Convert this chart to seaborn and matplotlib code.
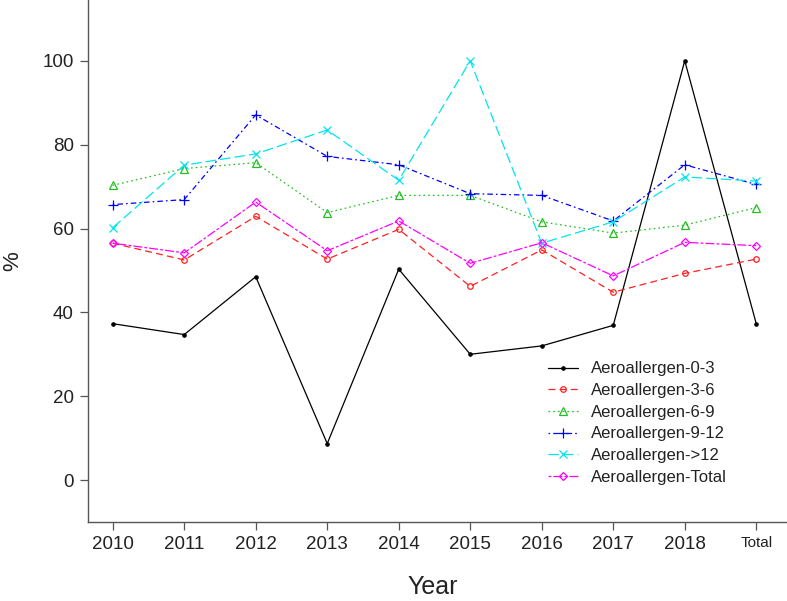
import matplotlib
matplotlib.use("Agg")
import matplotlib.pyplot as plt
import seaborn as sns
import pandas as pd

categories = ["2010", "2011", "2012", "2013", "2014", "2015", "2016", "2017", "2018", "Total"]
series_names = ["Aeroallergen-0-3", "Aeroallergen-3-6", "Aeroallergen-6-9",
                "Aeroallergen-9-12", "Aeroallergen->12", "Aeroallergen-Total"]
age_0_3 = [37.3, 34.7, 48.5, 8.7, 50.3, 30.0, 32.0, 36.9, 100.0, 37.3]
age_3_6 = [56.5, 52.5, 62.9, 52.7, 59.8, 46.2, 54.9, 44.8, 49.3, 52.7]
age_6_9 = [70.3, 74.3, 75.7, 63.8, 67.9, 67.9, 61.6, 58.9, 60.8, 65.0]
age_9_12 = [65.7, 66.9, 87.1, 77.2, 75.2, 68.3, 67.9, 61.8, 75.2, 70.5]
age_gt12 = [60.2, 75.1, 77.8, 83.5, 71.5, 100.0, 56.5, 61.6, 72.3, 71.3]
age_total = [56.5, 54.2, 66.3, 54.7, 61.8, 51.7, 56.6, 48.7, 56.7, 55.9]

all_values = [age_0_3, age_3_6, age_6_9, age_9_12, age_gt12, age_total]
rows = []
for name, vals in zip(series_names, all_values):
    for cat, v in zip(categories, vals):
        rows.append({"Year": cat, "value": v, "series": name})
df = pd.DataFrame(rows)

colors = ["black", "#FF2020", "#22C022", "#0000FF", "#00E5EE", "#FF00FF"]
markers = ["o", "o", "^", "+", "x", "D"]
marker_sizes = [2.4, 4.0, 5.2, 7.0, 5.2, 4.2]
hollow = [False, True, True, False, False, True]
dashes = ["", (5, 3), (1.2, 2.2), (1.2, 2.2, 4, 2.2), (7.5, 3), (2, 1.5, 6.5, 1.5)]

sns.set_theme(style="ticks")
plt.rcParams["font.family"] = ["Liberation Sans", "DejaVu Sans"]
plt.rcParams["lines.scale_dashes"] = False

fig = plt.figure(figsize=(7.87, 6.01), dpi=100)
ax = fig.add_axes([87.7 / 787, (601 - 522) / 601, (787 - 87.7) / 787, 522 / 601])

sns.lineplot(
    data=df, x="Year", y="value", hue="series", style="series",
    hue_order=series_names, style_order=series_names,
    palette=dict(zip(series_names, colors)),
    markers=False,
    dashes=dict(zip(series_names, dashes)),
    linewidth=0.9, legend=False, ax=ax, sort=False,
)

for line, c, m, ms, h in zip(ax.lines, colors, markers, marker_sizes, hollow):
    line.set_marker(m)
    line.set_markeredgecolor(c)
    line.set_markersize(ms)
    line.set_markeredgewidth(0.9)
    line.set_markerfacecolor("none" if h else c)

ax.set_xlim(-0.35, 9.43)
ax.set_ylim(-10, 114.5)
ax.set_yticks([0, 20, 40, 60, 80, 100])
ax.set_xticks(range(len(categories)))
ax.set_xticklabels(categories)

spine_color = "#555555"
for s in ["top", "right"]:
    ax.spines[s].set_visible(False)
for s in ["left", "bottom"]:
    ax.spines[s].set_color(spine_color)
    ax.spines[s].set_linewidth(1.0)
ax.tick_params(axis="both", length=6, width=0.9, color=spine_color,
               labelsize=13.5, labelcolor="#222222")
ax.tick_params(axis="y", pad=4)
ax.tick_params(axis="x", pad=4)
ax.get_xticklabels()[-1].set_fontsize(11)

ax.set_xlabel("Year", fontsize=18, color="#222222")
ax.set_ylabel("%", fontsize=16, color="#222222")
ax.xaxis.set_label_coords(0.494, -0.101)
ax.yaxis.set_label_coords(-0.0925, 0.5)

leg = ax.legend(
    handles=list(ax.lines[:6]), labels=series_names,
    loc="center left", bbox_to_anchor=(548 / 787, 1 - 423 / 601),
    bbox_transform=fig.transFigure, frameon=False, fontsize=12,
    handlelength=1.8, handletextpad=0.8, labelspacing=0.4,
    borderpad=0, borderaxespad=0,
)
for t in leg.get_texts():
    t.set_color("#222222")

fig.savefig("out.png", dpi=100)
